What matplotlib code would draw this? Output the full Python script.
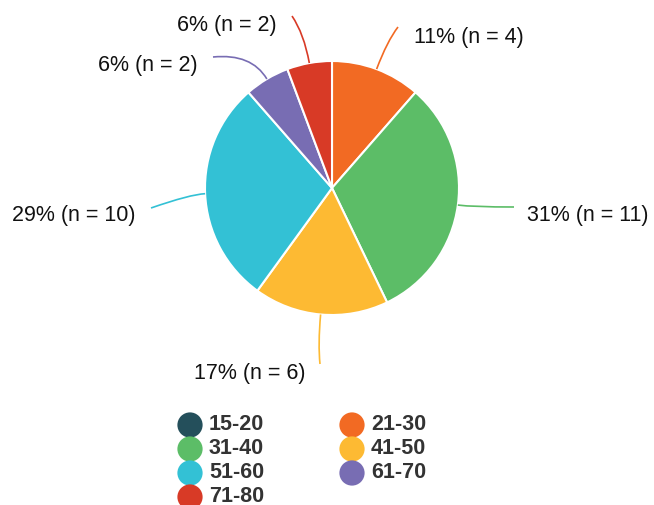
import matplotlib
matplotlib.use("Agg")
import matplotlib.pyplot as plt
from matplotlib.path import Path
from matplotlib.patches import PathPatch
import numpy as np

plt.rcParams["font.family"] = ["Liberation Sans", "DejaVu Sans"]

age_groups = ["15-20", "21-30", "31-40", "41-50", "51-60", "61-70", "71-80"]
counts = [0, 4, 11, 6, 10, 2, 2]
percents = [0, 11, 31, 17, 29, 6, 6]
colors = ["#244f5b", "#f26a23", "#5cbd67", "#fdba33", "#33c1d5", "#786db3", "#d83a26"]

W, H = 654, 506
CX, CY, R = 332, H - 189, 127

# leader end, text anchor, alignment, control-point offset (pixels from top-left)
label_pos = {
    "21-30": (398, 28, 414, 37, "left", 30),
    "31-40": (514, 208, 527, 215, "left", 15),
    "41-50": (320, 365, 305, 373, "right", 30),
    "51-60": (151, 209, 136, 215, "right", 15),
    "61-70": (213, 58, 198, 65, "right", 30),
    "71-80": (292, 17, 277, 25, "right", 30),
}

fig = plt.figure(figsize=(W / 100, H / 100), dpi=100)
ax = fig.add_axes([0, 0, 1, 1])

nz = [i for i, c in enumerate(counts) if c > 0]
wedges, _ = ax.pie([counts[i] for i in nz], colors=[colors[i] for i in nz],
                   startangle=90, counterclock=False, center=(CX, CY), radius=R,
                   wedgeprops=dict(edgecolor="white", linewidth=1.5))
ax.set_xlim(0, W)
ax.set_ylim(0, H)
ax.set_aspect("equal")
ax.axis("off")

total = sum(counts)
start = 0.0
for i in nz:
    frac = counts[i] / total
    mid = np.deg2rad((start + frac / 2) * 360)
    start += frac
    ex, ey, tx, ty, ha, d = label_pos[age_groups[i]]
    p0 = (CX + R * np.sin(mid), CY + R * np.cos(mid))
    p1 = (CX + (R + d) * np.sin(mid), CY + (R + d) * np.cos(mid))
    p2 = (ex, H - ey)
    path = Path([p0, p1, p2], [Path.MOVETO, Path.CURVE3, Path.CURVE3])
    ax.add_patch(PathPatch(path, facecolor="none", edgecolor=colors[i], linewidth=1.2))
    ax.text(tx, H - ty, f"{percents[i]}% (n = {counts[i]})", ha=ha, va="center",
            fontsize=15.5, color="#111111")

# legend, two columns filled row-wise
for k, (name, col) in enumerate(zip(age_groups, colors)):
    row, c = divmod(k, 2)
    x0 = 190 + c * 162
    y0 = H - (426 + row * 24)
    ax.scatter([x0], [y0], s=330, color=col, edgecolor="none")
    ax.text(x0 + 19, y0 + 1, name, ha="left", va="center", fontsize=15.5,
            fontweight="bold", color="#333333")

fig.savefig("out.png", dpi=100)
